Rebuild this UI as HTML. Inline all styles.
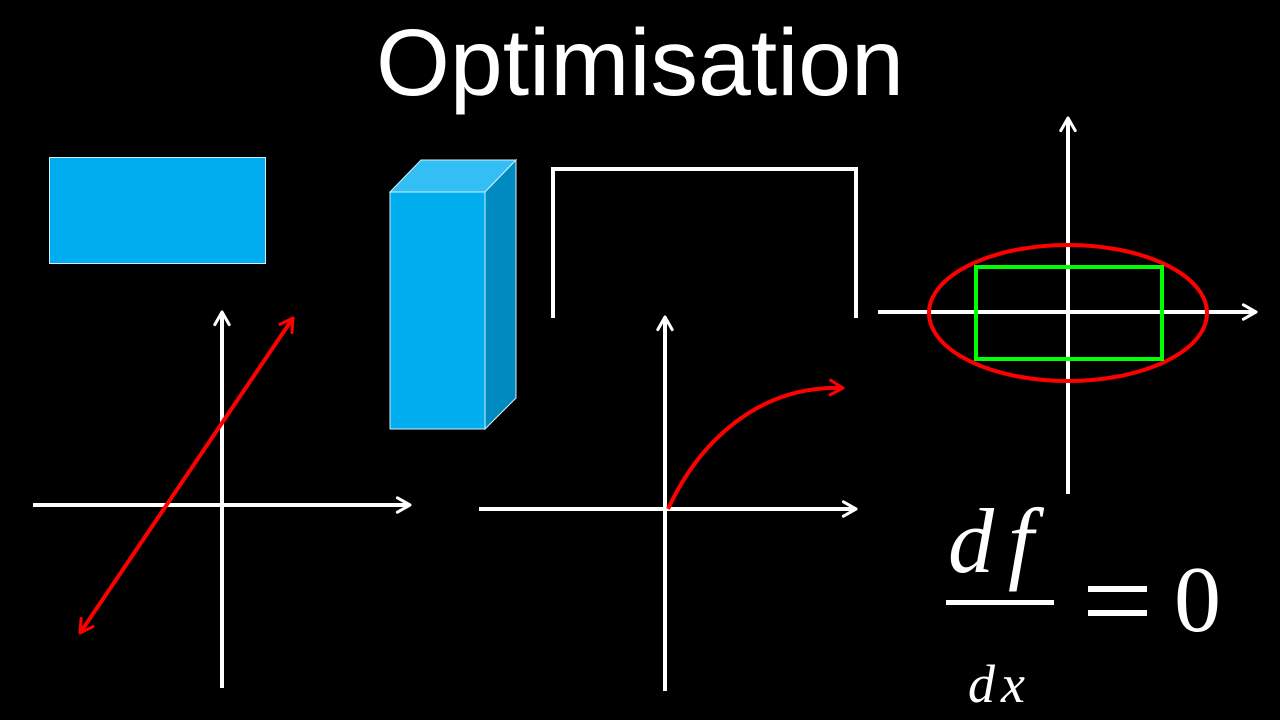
<!DOCTYPE html>
<html><head><meta charset="utf-8"><style>
html,body{margin:0;padding:0;background:#000;width:1280px;height:720px;overflow:hidden}
</style></head><body>
<svg width="1280" height="720" xmlns="http://www.w3.org/2000/svg">
<defs>
<marker id="aw" viewBox="0 0 10 10" refX="8" refY="5" markerWidth="4.5" markerHeight="4.5" orient="auto-start-reverse" markerUnits="strokeWidth">
<path d="M1,1 L8,5 L1,9" fill="none" stroke="#fff" stroke-width="1.7" stroke-linecap="round" stroke-linejoin="round"/></marker>
<marker id="ar" viewBox="0 0 10 10" refX="8" refY="5" markerWidth="4.5" markerHeight="4.5" orient="auto-start-reverse" markerUnits="strokeWidth">
<path d="M1,1 L8,5 L1,9" fill="none" stroke="#f00" stroke-width="1.7" stroke-linecap="round" stroke-linejoin="round"/></marker>
</defs>
<text x="640" y="95" font-family="Liberation Sans, sans-serif" font-size="95" fill="#fff" text-anchor="middle">Optimisation</text>
<rect x="49.5" y="157.5" width="216" height="106" fill="#00AEEF" stroke="#cfefff" stroke-width="1"/>
<polygon points="390,192 421,160 516,160 485,192" fill="#33BFF3" stroke="#cfefff" stroke-width="1"/>
<polygon points="485,192 516,160 516,398 485,429" fill="#008BC0" stroke="#cfefff" stroke-width="1"/>
<rect x="390" y="192" width="95" height="237" fill="#00AEEF" stroke="#cfefff" stroke-width="1"/>
<polyline points="553,318 553,169 856,169 856,318" fill="none" stroke="#fff" stroke-width="4"/>
<line x1="33" y1="505" x2="410" y2="505" stroke="#fff" stroke-width="4" marker-end="url(#aw)"/>
<line x1="222" y1="688" x2="222" y2="312" stroke="#fff" stroke-width="4" marker-end="url(#aw)"/>
<line x1="80" y1="633" x2="293" y2="318" stroke="#f00" stroke-width="4" marker-end="url(#ar)" marker-start="url(#ar)"/>
<line x1="479" y1="509" x2="856" y2="509" stroke="#fff" stroke-width="4" marker-end="url(#aw)"/>
<line x1="665" y1="691" x2="665" y2="317" stroke="#fff" stroke-width="4" marker-end="url(#aw)"/>
<path d="M668,509 C700,440 760,385 843,388" fill="none" stroke="#f00" stroke-width="4" marker-end="url(#ar)"/>
<line x1="1068" y1="494" x2="1068" y2="118" stroke="#fff" stroke-width="4" marker-end="url(#aw)"/>
<line x1="878" y1="312" x2="1256" y2="312" stroke="#fff" stroke-width="4" marker-end="url(#aw)"/>
<ellipse cx="1068" cy="313" rx="139" ry="68" fill="none" stroke="#f00" stroke-width="4"/>
<rect x="976" y="267" width="186" height="92" fill="none" stroke="#00ff00" stroke-width="4"/>
<text x="948" y="572" font-family="Liberation Serif, serif" font-style="italic" font-size="92" fill="#fff" letter-spacing="14">df</text>
<rect x="946" y="600" width="108" height="5" fill="#fff"/>
<text x="968" y="702" font-family="Liberation Serif, serif" font-style="italic" font-size="54" fill="#fff" letter-spacing="6">dx</text>
<rect x="1088" y="586" width="59" height="6" fill="#fff"/>
<rect x="1088" y="610" width="59" height="6" fill="#fff"/>
<text x="1174" y="631" font-family="Liberation Serif, serif" font-size="94" fill="#fff">0</text>
</svg>
</body></html>
